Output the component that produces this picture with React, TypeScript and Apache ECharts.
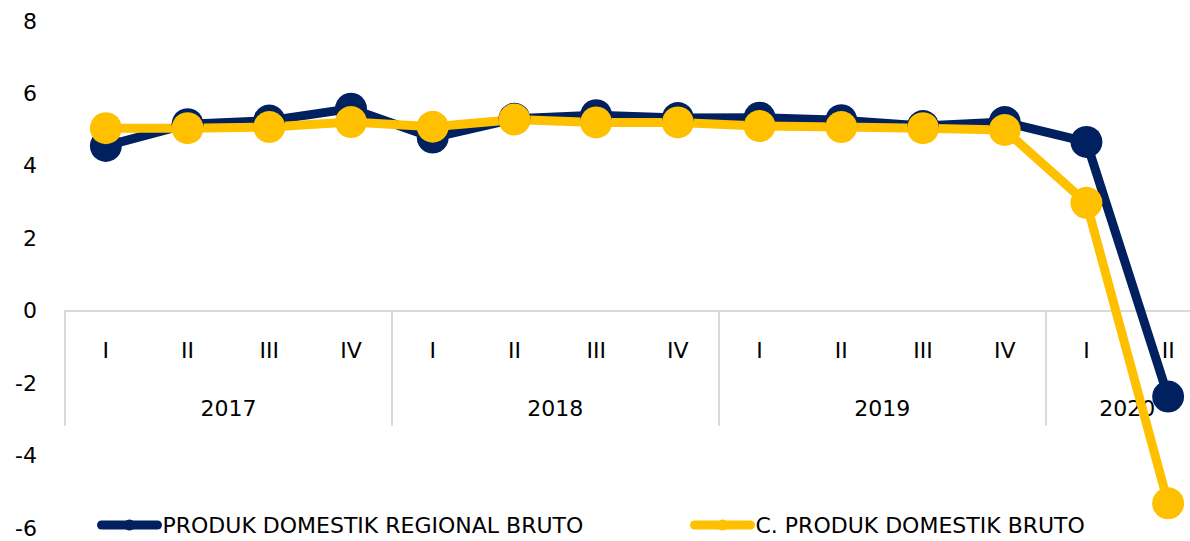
import React, { useEffect, useRef } from "react";
import * as echarts from "echarts";

const quarters = ["I", "II", "III", "IV", "I", "II", "III", "IV", "I", "II", "III", "IV", "I", "II"];
const years = ["2017", "2018", "2019", "2020"];
const quartersPerYear = [4, 4, 4, 2];
const pdrb = [4.55, 5.15, 5.25, 5.58, 4.78, 5.3, 5.4, 5.32, 5.33, 5.26, 5.1, 5.21, 4.66, -2.37];
const pdb = [5.04, 5.04, 5.07, 5.21, 5.08, 5.28, 5.2, 5.2, 5.1, 5.07, 5.04, 4.99, 2.98, -5.32];
const seriesNames = ["PRODUK DOMESTIK REGIONAL BRUTO", "C. PRODUK DOMESTIK BRUTO"];
const yTicks = { min: -6, max: 8, interval: 2 };

const FONT = "'DejaVu Sans', sans-serif";
const NAVY = "#002060";
const GOLD = "#FFC000";
const GRID_LINE = "#d9d9d9";

const W = 1190;
const H = 541;
const GRID = { left: 65, right: -19, top: 21, bottom: 13 };

export default function App() {
  const ref = useRef<HTMLDivElement>(null);
  useEffect(() => {
    if (!ref.current) return;
    const chart = echarts.init(ref.current, undefined, { renderer: "svg" });

    // group boundaries & centres (in quarter units) derived from the year data
    const starts: number[] = [];
    const centres: number[] = [];
    let acc = 0;
    quartersPerYear.forEach((n) => {
      starts.push(acc);
      centres.push(acc + n / 2);
      acc += n;
    });
    const plotH = H - GRID.top - GRID.bottom;
    const zeroFromBottom = (plotH * (0 - yTicks.min)) / (yTicks.max - yTicks.min);

    const legendBase = {
      top: 514,
      padding: 0,
      itemWidth: 56,
      itemHeight: 14,
      textStyle: { fontSize: 22, color: "#000", fontFamily: FONT },
      lineStyle: { width: 9, cap: "round" },
    };

    chart.setOption({
      animation: false,
      backgroundColor: "#fff",
      textStyle: { fontFamily: FONT },
      grid: { ...GRID, outerBoundsMode: "none", containLabel: false },
      legend: [
        { ...legendBase, left: 97, data: [seriesNames[0]] },
        { ...legendBase, left: 690, data: [seriesNames[1]] },
      ],
      xAxis: [
        {
          type: "category",
          data: quarters,
          boundaryGap: true,
          offset: -zeroFromBottom,
          axisLine: { show: true, onZero: false, lineStyle: { color: GRID_LINE, width: 2 } },
          axisTick: { show: false },
          axisLabel: { interval: 0, margin: 29, fontSize: 22, color: "#000", fontFamily: FONT },
          splitLine: { show: false },
        },
        {
          type: "value",
          min: 0,
          max: quarters.length,
          position: "bottom",
          offset: -zeroFromBottom,
          axisLine: { show: false, onZero: false },
          axisTick: {
            show: true,
            customValues: starts,
            length: 115,
            lineStyle: { color: GRID_LINE, width: 2 },
          },
          axisLabel: {
            customValues: centres,
            margin: 87,
            fontSize: 22,
            color: "#000",
            fontFamily: FONT,
            showMinLabel: true,
            showMaxLabel: true,
            formatter: (v: number) => {
              const i = centres.indexOf(v);
              return i >= 0 ? years[i] : "";
            },
          },
          splitLine: { show: false },
        },
      ],
      yAxis: {
        type: "value",
        min: yTicks.min,
        max: yTicks.max,
        interval: yTicks.interval,
        axisLine: { show: false },
        axisTick: { show: false },
        splitLine: { show: false },
        axisLabel: { margin: 28, fontSize: 22, color: "#000", fontFamily: FONT },
      },
      series: [
        {
          name: seriesNames[0],
          type: "line",
          xAxisIndex: 0,
          data: pdrb,
          symbol: "circle",
          symbolSize: 32,
          lineStyle: { color: NAVY, width: 9 },
          itemStyle: { color: NAVY },
        },
        {
          name: seriesNames[1],
          type: "line",
          xAxisIndex: 0,
          data: pdb,
          symbol: "circle",
          symbolSize: 32,
          lineStyle: { color: GOLD, width: 9 },
          itemStyle: { color: GOLD },
        },
      ],
    });
    return () => chart.dispose();
  }, []);
  return (
    <div
      ref={ref}
      style={{ position: "fixed", left: 0, top: 0, width: W, height: H }}
    />
  );
}
